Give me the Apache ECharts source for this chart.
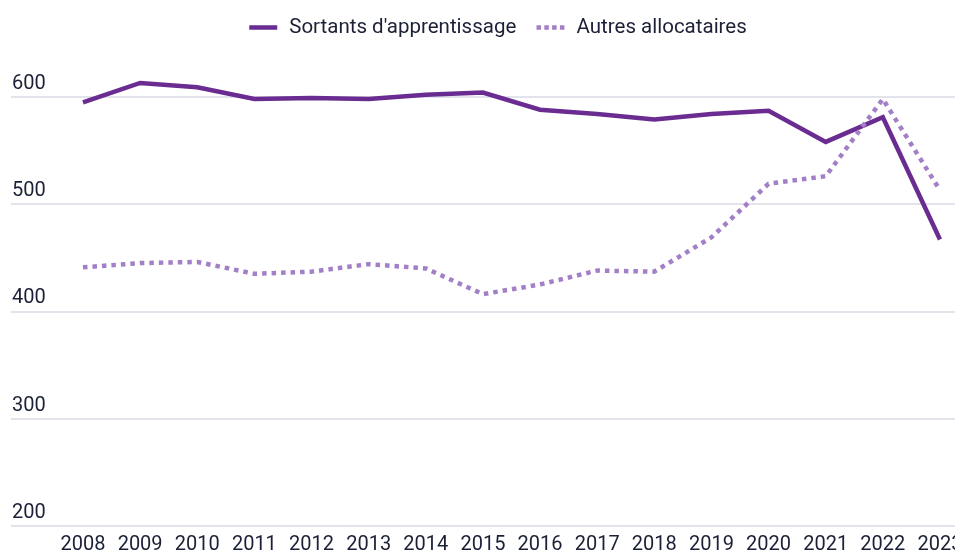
<!DOCTYPE html>
<html>
<head>
<meta charset="utf-8">
<script src="https://cdn.jsdelivr.net/npm/echarts@6/dist/echarts.min.js"></script>
<style>
  html, body { margin: 0; padding: 0; background: #fff; }
  #chart { width: 955px; height: 554px; }
</style>
</head>
<body>
<div id="chart"></div>
<script>
// Data
const years = [2008, 2009, 2010, 2011, 2012, 2013, 2014, 2015, 2016, 2017, 2018, 2019, 2020, 2021, 2022, 2023];
const sortants = [595, 613, 609, 598, 599, 598, 602, 604, 588, 584, 579, 584, 587, 558, 581, 467];
const autres = [441, 445, 446, 435, 437, 444, 440, 416, 425, 438, 437, 469, 519, 526, 598, 513];
const seriesNames = ['Sortants d\'apprentissage', 'Autres allocataires'];
const yTicks = [200, 300, 400, 500, 600, 700];

const TEXT = '#1c2036';
const SOLID = '#6a2c91';
const DOTTED = '#a27fc6';

const chart = echarts.init(document.getElementById('chart'));

const toPairs = (vals) => vals.map((v, i) => [years[i], v]);

chart.setOption({
  animation: false,
  backgroundColor: '#fff',
  textStyle: { fontFamily: 'Roboto' },
  legend: {
    top: 12,
    left: 242,
    itemWidth: 28,
    itemHeight: 14,
    itemGap: 18,
    itemStyle: { color: 'rgba(0,0,0,0)', borderWidth: 0, opacity: 0 },
    textStyle: { color: TEXT, fontSize: 20.5, fontFamily: 'Roboto', padding: [0, 0, 0, 7] },
    data: [
      { name: seriesNames[0], lineStyle: { width: 4.5, cap: 'butt' } },
      { name: seriesNames[1], lineStyle: { width: 4.5, type: [4.5, 3.3], cap: 'butt' } }
    ]
  },
  grid: { left: 11, right: 0, top: -10.3, bottom: 28.3, outerBoundsMode: 'none', containLabel: false },
  xAxis: {
    type: 'value',
    min: 2006.74,
    max: 2023.263,
    axisLine: { show: false },
    axisTick: { show: false },
    splitLine: { show: false },
    axisLabel: {
      customValues: years,
      color: TEXT,
      fontSize: 20,
      margin: 9,
      formatter: (v) => String(v)
    }
  },
  yAxis: {
    type: 'value',
    min: yTicks[0],
    max: yTicks[yTicks.length - 1],
    interval: 100,
    axisLine: { show: false },
    axisTick: { show: false },
    axisLabel: {
      inside: true,
      margin: 1,
      color: TEXT,
      fontSize: 20,
      verticalAlign: 'bottom',
      align: 'left',
      padding: [0, 0, 3, 0]
    },
    splitLine: { lineStyle: { color: '#d8dae5', width: 1.5 } }
  },
  series: [
    {
      name: seriesNames[0],
      type: 'line',
      data: toPairs(sortants),
      symbol: 'none',
      lineStyle: { color: SOLID, width: 4.5, cap: 'butt', join: 'miter' },
      itemStyle: { color: SOLID }
    },
    {
      name: seriesNames[1],
      type: 'line',
      data: toPairs(autres),
      symbol: 'none',
      lineStyle: { color: DOTTED, width: 4.5, type: [4.5, 5], cap: 'butt' },
      itemStyle: { color: DOTTED }
    }
  ]
});
</script>
</body>
</html>
